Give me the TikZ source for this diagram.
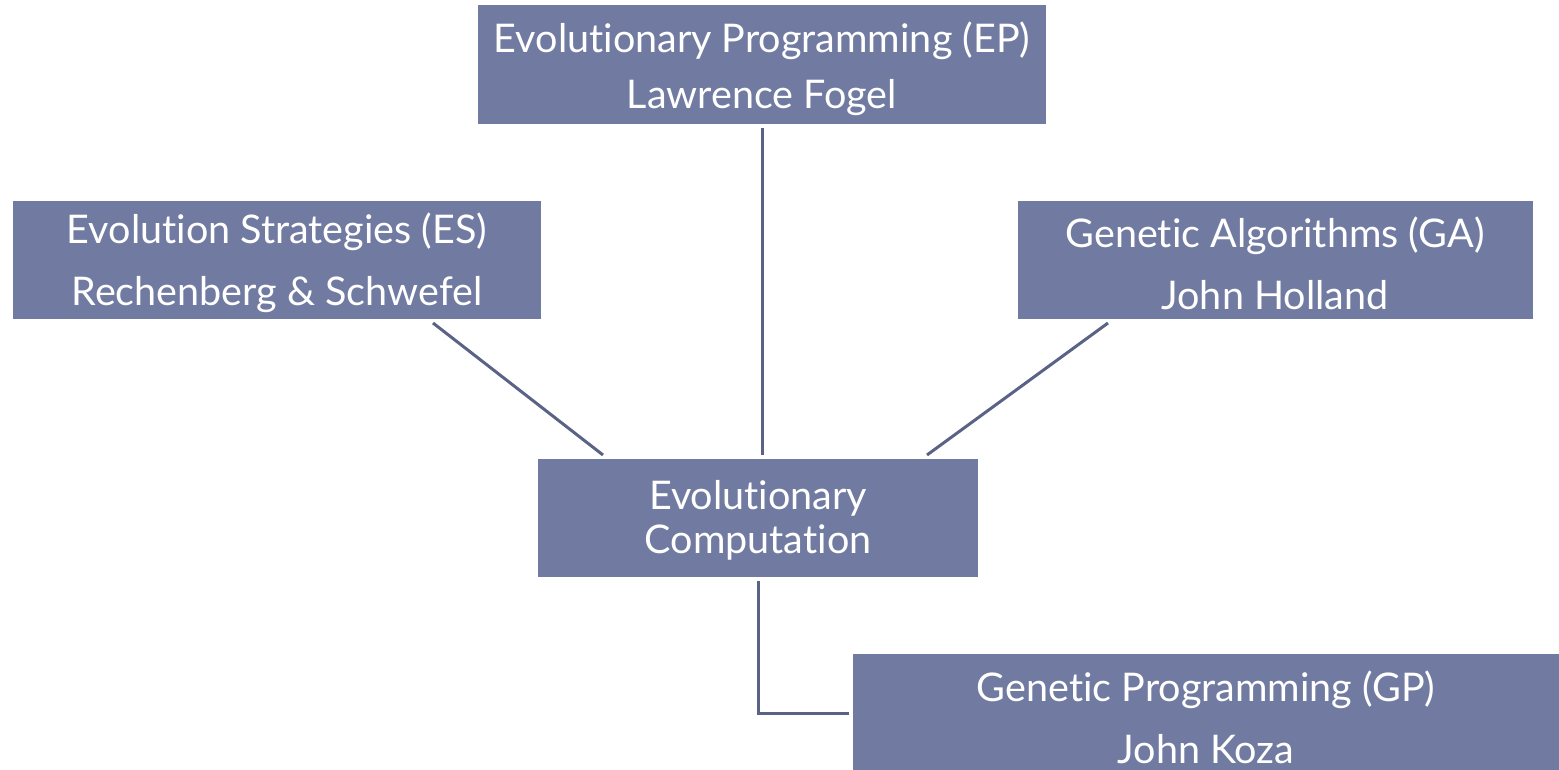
\documentclass[tikz,border=0pt]{standalone}
\usepackage{fontspec}
\setmainfont{Lato}[RawFeature={-liga;-dlig}]
\definecolor{boxfill}{RGB}{113,123,162}
\definecolor{linkcol}{RGB}{90,99,134}
\begin{document}
\begin{tikzpicture}[x=1pt,y=-1pt,
  box/.style={fill=boxfill, inner sep=0pt, outer sep=0pt, anchor=north west},
  lbl/.style={text=white, align=center, inner sep=0pt},
  link/.style={draw=linkcol, line width=3pt}]
\useasboundingbox (0,0) rectangle (1559,770);
% boxes
\node[box, minimum width=568pt, minimum height=119pt] (ep) at (478,5) {};
\node[box, minimum width=528pt, minimum height=118pt] (es) at (13,201) {};
\node[box, minimum width=515pt, minimum height=118pt] (ga) at (1018,201) {};
\node[box, minimum width=440pt, minimum height=118pt] (ec) at (538,459) {};
\node[box, minimum width=706pt, minimum height=116pt] (gp) at (853,654) {};
% labels
\node[lbl, font=\fontsize{39.5}{56}\selectfont] (eptxt) at (762,69) {Evolutionary Programming (EP)\\Lawrence Fogel};
\node[lbl, font=\fontsize{39.5}{62}\selectfont] (estxt) at (277,263) {Evolution Strategies (ES)\\Rechenberg \& Schwefel};
\node[lbl, font=\fontsize{39.5}{62}\selectfont] (gatxt) at (1275,263) {Genetic Algorithms (GA)\\John Holland};
\node[lbl, font=\fontsize{39.5}{44}\selectfont] (ectxt) at (758,520) {Evolutionary\\Computation};
\node[lbl, font=\fontsize{39.5}{62}\selectfont] (gptxt) at (1206,717) {Genetic Programming (GP)\\John Koza};
% connectors
\coordinate (epA) at (762,128);
\coordinate (epB) at (762,455);
\coordinate (esA) at (433,323);
\coordinate (esB) at (603,455);
\coordinate (gaA) at (1108,323);
\coordinate (gaB) at (927,455);
\coordinate (gpA) at (758,581);
\coordinate (gpB) at (849,713);
\draw[link] (epA) -- (epB);
\draw[link] (esA) -- (esB);
\draw[link] (gaA) -- (gaB);
\draw[link] (gpA) |- (gpB);
\end{tikzpicture}
\end{document}
